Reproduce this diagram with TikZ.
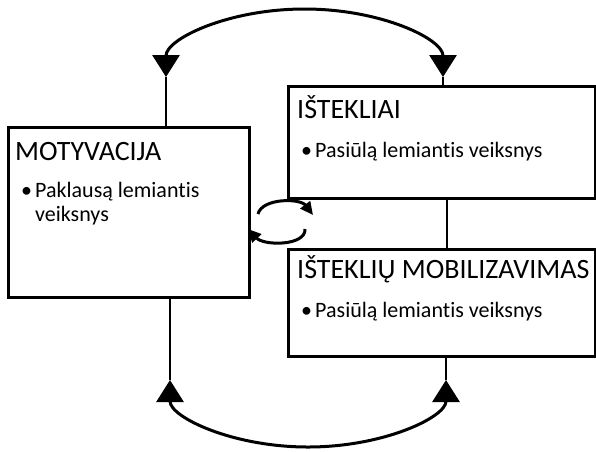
\documentclass[tikz,border=0pt]{standalone}
\usepackage{fontspec}
\setmainfont{Carlito}[Ligatures=NoCommon]
\usetikzlibrary{arrows.meta}
\newcommand{\drawthick}{\draw[line width=3pt]}
\newcommand{\drawthin}{\draw[line width=1.1pt]}
\tikzset{
  box/.style={draw, line width=3pt, rectangle, anchor=north west, inner sep=0pt},
  title/.style={anchor=base west, inner sep=0pt, font=\fontsize{28}{34}\selectfont},
  item/.style={anchor=base west, inner sep=0pt, font=\fontsize{22}{26}\selectfont},
  bigtip/.tip={Triangle[width=27pt,length=22pt]},
  smalltip/.tip={Triangle[width=12pt,length=13pt]}
}

\begin{document}
\begin{tikzpicture}[x=1pt,y=-1pt]
\useasboundingbox[fill=white] (0,0) rectangle (596,451);
% boxes
\node[box, minimum width=241pt, minimum height=170pt] (motyv) at (7,126) {};
\node[box, minimum width=307pt, minimum height=112pt] (istek) at (287,85) {};
\node[box, minimum width=307pt, minimum height=107pt] (mobil) at (287,248) {};
% texts
\node[title] (motyvt) at (15,160) {MOTYVACIJA};
\node[item] (motyvb) at (21,197) {•};
\node[item] (motyv1) at (35,197) {Paklausą lemiantis};
\node[item] (motyv2) at (35,221) {veiksnys};
\node[title] (istekt) at (297,118) {IŠTEKLIAI};
\node[item] (istekb) at (301,157) {•};
\node[item] (istek1) at (315,157) {Pasiūlą lemiantis veiksnys};
\node[title] (mobilt) at (297,278) {IŠTEKLIŲ MOBILIZAVIMAS};
\node[item] (mobilb) at (301,317) {•};
\node[item] (mobil1) at (315,317) {Pasiūlą lemiantis veiksnys};
% arrow ends
\coordinate (ltop) at (166,77);
\coordinate (rtop) at (443,77);
\coordinate (tmid) at (304.5,9);
\coordinate (lbot) at (170,380);
\coordinate (rbot) at (446,380);
\coordinate (bmid) at (308,447);
% thin links
\drawthin (ltop) -- (ltop |- motyv.north);
\drawthin (rtop) -- (rtop |- istek.north);
\drawthin (istek.south -| 447,0) -- (mobil.north -| 447,0);
\drawthin (lbot) -- (lbot |- motyv.south);
\drawthin (rbot) -- (rbot |- mobil.south);
% big arcs
\drawthick[bigtip-bigtip] (ltop) .. controls (166,39) and (228,9) .. (tmid)
  .. controls (381,9) and (443,39) .. (rtop);
\drawthick[bigtip-bigtip] (lbot) .. controls (170,417) and (232,447) .. (bmid)
  .. controls (384,447) and (446,417) .. (rbot);
% small cycle
\coordinate (cyca) at (258,214);
\coordinate (cycb) at (313,215);
\coordinate (cycc) at (305,229);
\coordinate (cycd) at (248,229);
\drawthick[-smalltip] (cyca) .. controls (262,198) and (300,198) .. (cycb);
\drawthick[-smalltip] (cycc) .. controls (306,246) and (264,246) .. (cycd);
\end{tikzpicture}
\end{document}
